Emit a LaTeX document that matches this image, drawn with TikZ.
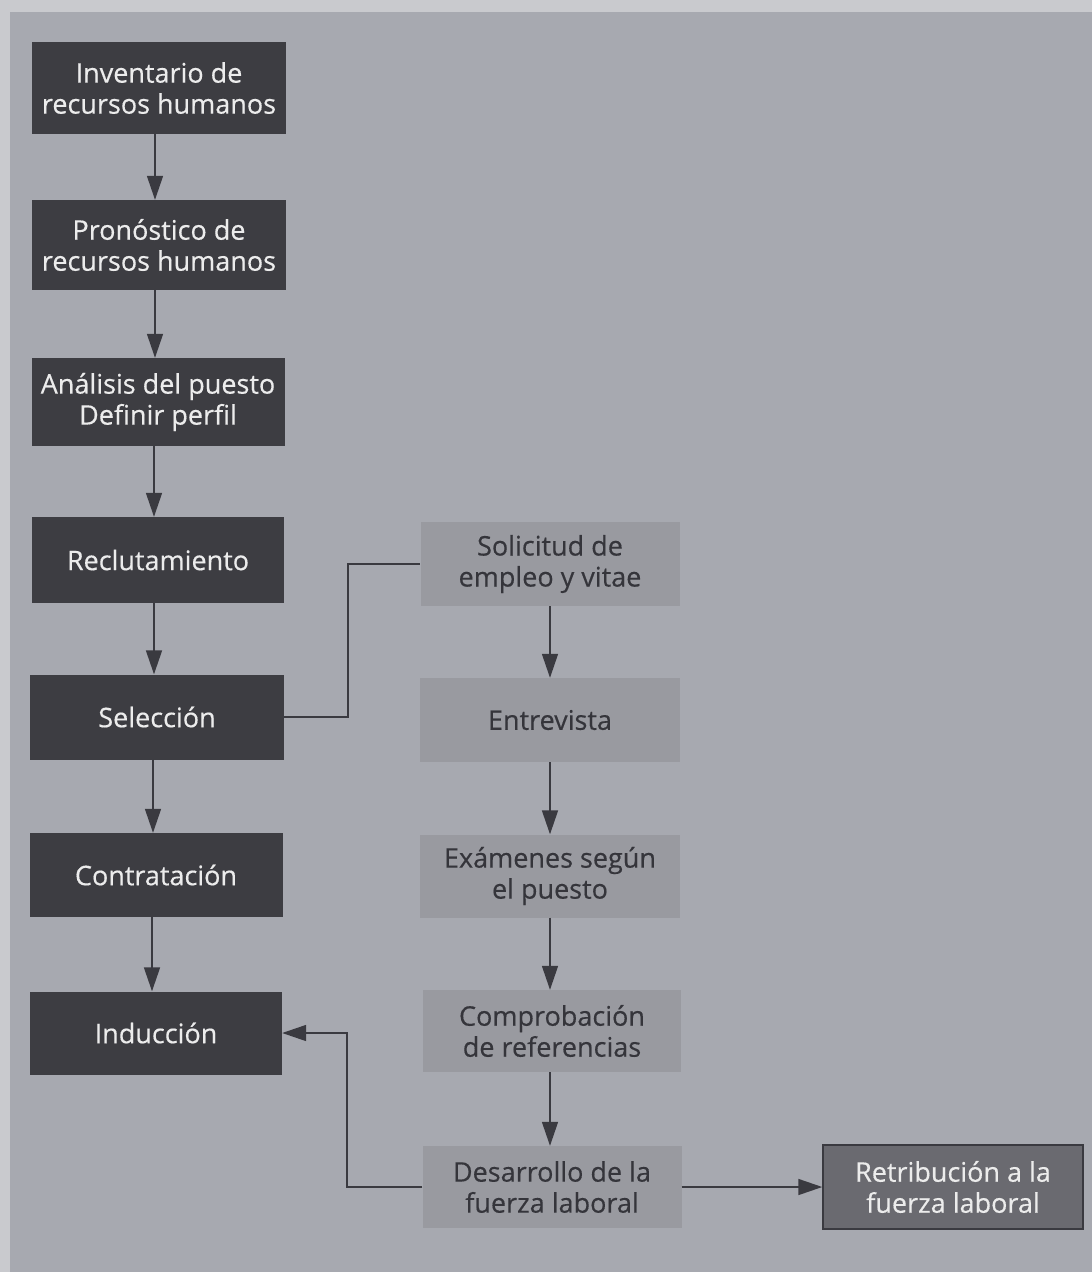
\documentclass[tikz,border=0pt]{standalone}
\usepackage{fontspec}
\setmainfont{Open Sans}[FakeBold=0.4]
\usetikzlibrary{arrows.meta}
\definecolor{bg}{HTML}{A7A9B0}
\definecolor{bglight}{HTML}{C9CACE}
\definecolor{darkbox}{HTML}{3D3D42}
\definecolor{lightbox}{HTML}{999AA0}
\definecolor{midbox}{HTML}{6A6A70}
\definecolor{linec}{HTML}{3A3A40}
\definecolor{darktext}{HTML}{35353B}
\definecolor{lighttext}{HTML}{ECECEC}
\tikzset{
  x=1pt, y=-1pt,
  boxbase/.style={rectangle, inner sep=0pt, align=center,
    font=\fontsize{27}{31}\selectfont},
  darkb/.style={boxbase, fill=darkbox, text=lighttext},
  lightb/.style={boxbase, fill=lightbox, text=darktext},
  midb/.style={boxbase, fill=midbox, draw=linec, line width=1.5pt, text=lighttext},
  conn/.style={draw=linec, line width=1.6pt},
  arr/.style={conn, -{Triangle[length=24pt,width=16pt]}},
}
\begin{document}
\begin{tikzpicture}
\fill[bglight] (0,0) rectangle (1092,1272);
\fill[bg] (10,12) rectangle (1092,1272);
\useasboundingbox (0,0) rectangle (1092,1272);

% left column
\node[darkb, minimum width=254pt, minimum height=92pt] (inv) at (159,88) {Inventario de\\recursos humanos};
\node[darkb, minimum width=254pt, minimum height=90pt] (pro) at (159,245) {Pronóstico de\\recursos humanos};
\node[darkb, minimum width=253pt, minimum height=88pt] (ana) at (158,402) {Análisis del puesto\\Definir perfil};
\node[darkb, minimum width=252pt, minimum height=86pt] (rec) at (158,560) {Reclutamiento};
\node[darkb, minimum width=254pt, minimum height=85pt] (sel) at (157,717) {Selección};
\node[darkb, minimum width=253pt, minimum height=84pt] (con) at (156,875) {Contratación};
\node[darkb, minimum width=252pt, minimum height=83pt] (ind) at (156,1033) {Inducción};

% right column
\node[lightb, minimum width=259pt, minimum height=84pt] (sol) at (550,564) {Solicitud de\\empleo y vitae};
\node[lightb, minimum width=260pt, minimum height=84pt] (ent) at (550,720) {Entrevista};
\node[lightb, minimum width=260pt, minimum height=83pt] (exa) at (550,876) {Exámenes según\\el puesto};
\node[lightb, minimum width=258pt, minimum height=82pt] (com) at (552,1031) {Comprobación\\de referencias};
\node[lightb, minimum width=259pt, minimum height=82pt] (des) at (552,1187) {Desarrollo de la\\fuerza laboral};
\node[midb, minimum width=260pt, minimum height=84pt] (ret) at (953,1187) {Retribución a la\\fuerza laboral};

% left arrows (slightly left of box centres, as in the reference)
\draw[arr] ([xshift=-4pt]inv.south) -- ([xshift=-4pt]inv.south |- pro.north);
\draw[arr] ([xshift=-4pt]pro.south) -- ([xshift=-4pt]pro.south |- ana.north);
\draw[arr] ([xshift=-4pt]ana.south) -- ([xshift=-4pt]ana.south |- rec.north);
\draw[arr] ([xshift=-4pt]rec.south) -- ([xshift=-4pt]rec.south |- sel.north);
\draw[arr] ([xshift=-4pt]sel.south) -- ([xshift=-4pt]sel.south |- con.north);
\draw[arr] ([xshift=-4pt]con.south) -- ([xshift=-4pt]con.south |- ind.north);

% right arrows
\draw[arr] (sol.south) -- (sol.south |- ent.north);
\draw[arr] (ent.south) -- (ent.south |- exa.north);
\draw[arr] (exa.south) -- (exa.south |- com.north);
\draw[arr] (exa.south |- com.south) -- (exa.south |- des.north);

% connections
\draw[conn] (sel.east) -- (348,717) |- (sol.west);
\draw[arr] (des.west) -- (347,1187) |- (ind.east);
\draw[arr] (des.east) -- (ret.west);
\end{tikzpicture}
\end{document}
